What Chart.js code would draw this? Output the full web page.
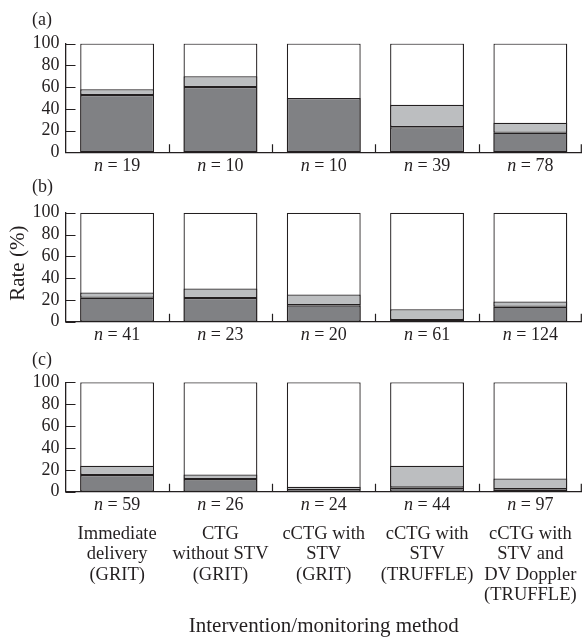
<!DOCTYPE html>
<html><head><meta charset="utf-8">
<script src="https://cdn.jsdelivr.net/npm/chart.js@4.4.1/dist/chart.umd.min.js"></script>
<style>
html,body{margin:0;padding:0;background:#fff;}
#wrap{position:relative;width:582px;height:639px;overflow:hidden;background:#fff;}
.cv{position:absolute;left:0;width:582px;}
</style></head><body>
<div id="wrap">
  <div class="cv" style="top:0;height:178px"><canvas id="ca"></canvas></div>
  <div class="cv" style="top:178px;height:170px"><canvas id="cb"></canvas></div>
  <div class="cv" style="top:348px;height:291px"><canvas id="cc"></canvas></div>
</div>
<script>
// ---------- data ----------
const categories = [
  ["Immediate", "delivery", "(GRIT)"],
  ["CTG", "without STV", "(GRIT)"],
  ["cCTG with", "STV", "(GRIT)"],
  ["cCTG with", "STV", "(TRUFFLE)"],
  ["cCTG with", "STV and", "DV Doppler", "(TRUFFLE)"]
];
const panelLabels = ["(a)", "(b)", "(c)"];
const nA = [19, 10, 10, 39, 78];
const nB = [41, 23, 20, 61, 124];
const nC = [59, 26, 24, 44, 97];
const darkA  = [52.6, 60.0, 50.0, 23.1, 17.9];
const lightA = [5.3, 10.0, 0.0, 20.5, 9.2];
const darkB  = [22.0, 21.7, 15.0, 1.6, 13.7];
const lightB = [4.8, 8.7, 10.0, 9.9, 4.8];
const darkC  = [15.3, 11.5, 1.2, 3.7, 2.2];
const lightC = [8.4, 4.2, 3.4, 20.1, 9.8];
const totals = [100, 100, 100, 100, 100];
const yTicks = [0, 20, 40, 60, 80, 100];
const yTitle = "Rate (%)";
const xTitle = "Intervention/monitoring method";

// ---------- style ----------
const INK = "#231f20";
const DARK = "#808184";
const LIGHT = "#bcbec0";
const FONT = "'Liberation Serif', 'Times New Roman', serif";

const deco = {
  id: "deco",
  afterDraw(chart) {
    const o = chart.options.plugins.deco;
    const {ctx, chartArea: ca, scales: {x, y}} = chart;
    ctx.save();
    ctx.strokeStyle = INK;
    ctx.lineWidth = 1.2;
    ctx.beginPath();
    y.ticks.forEach(t => {
      const py = Math.round(y.getPixelForValue(t.value)) + 0.5;
      ctx.moveTo(ca.left, py); ctx.lineTo(ca.left + 10, py);
    });
    for (let i = 0; i < o.ns.length; i++) {
      let px = x.getPixelForValue(i + 0.5);
      px = Math.min(Math.round(px) + 0.5, ca.right - 0.7);
      ctx.moveTo(px, ca.bottom); ctx.lineTo(px, ca.bottom - 8);
    }
    ctx.stroke();

    ctx.fillStyle = INK;
    ctx.textBaseline = "middle";
    // n labels
    o.ns.forEach((n, i) => {
      const cx = x.getPixelForValue(i);
      const cy = ca.bottom + 14;
      ctx.font = "italic 18px " + FONT;
      const w1 = ctx.measureText("n").width;
      ctx.font = "18px " + FONT;
      const rest = " = " + n;
      const w2 = ctx.measureText(rest).width;
      const sx = cx - (w1 + w2) / 2;
      ctx.textAlign = "left";
      ctx.font = "italic 18px " + FONT;
      ctx.fillText("n", sx, cy);
      ctx.font = "18px " + FONT;
      ctx.fillText(rest, sx + w1, cy);
    });
    // panel label
    ctx.textAlign = "left";
    ctx.font = "18px " + FONT;
    ctx.fillText(o.label, 32, o.labelY);
    // y title
    if (o.yTitle) {
      ctx.save();
      ctx.translate(18, (ca.top + ca.bottom) / 2 - 4);
      ctx.rotate(-Math.PI / 2);
      ctx.textAlign = "center";
      ctx.font = "21px " + FONT;
      ctx.fillText(o.yTitle, 0, 0);
      ctx.restore();
    }
    // category labels & x title
    if (o.cats) {
      ctx.textAlign = "center";
      ctx.font = "18.5px " + FONT;
      o.cats.forEach((lines, i) => {
        const cx = x.getPixelForValue(i);
        lines.forEach((ln, j) => ctx.fillText(ln, cx, ca.bottom + 42 + j * 20.5));
      });
      ctx.font = "21px " + FONT;
      ctx.fillText(o.xTitle, (ca.left + ca.right) / 2, ca.bottom + 135);
    }
    ctx.restore();
  }
};

function makePanel(id, dark, light, ns, label, labelY, topPad, bottomPad, extra) {
  const labels = ns.map(String);
  const common = {grouped: false, borderColor: INK, borderWidth: 1.3, borderSkipped: false,
                  barPercentage: 0.715, categoryPercentage: 1};
  return new Chart(document.getElementById(id), {
    type: "bar",
    data: {
      labels: labels,
      datasets: [
        Object.assign({label: "dark", data: dark, stack: "p", order: 1, backgroundColor: DARK}, common),
        Object.assign({label: "light", data: light, stack: "p", order: 2, backgroundColor: LIGHT}, common),
        Object.assign({label: "total", data: totals, stack: "t", order: 3, backgroundColor: "#ffffff"}, common)
      ]
    },
    options: {
      responsive: true,
      maintainAspectRatio: false,
      animation: false,
      devicePixelRatio: 1,
      layout: {padding: {top: topPad, bottom: bottomPad, left: 0, right: 0}},
      plugins: {
        legend: {display: false},
        tooltip: {enabled: false},
        deco: Object.assign({ns: ns, label: label, labelY: labelY}, extra || {})
      },
      scales: {
        x: {
          type: "category", offset: true, stacked: true,
          grid: {display: false, drawTicks: false},
          border: {display: true, color: INK, width: 1.3},
          ticks: {display: false},
          afterFit: s => { s.height = 0; }
        },
        y: {
          min: 0, max: 100, stacked: true,
          grid: {display: false, drawTicks: false},
          border: {display: true, color: INK, width: 1.3},
          afterBuildTicks: s => { s.ticks = yTicks.map(v => ({value: v})); },
          ticks: {
            color: INK, padding: 6, autoSkip: false,
            font: {family: FONT, size: 18},
            callback: v => String(v)
          },
          afterFit: s => { s.width = 65.5; }
        }
      }
    },
    plugins: [deco]
  });
}

// panel a: canvas 0..178, area 43.5..152.3
makePanel("ca", darkA, lightA, nA, panelLabels[0], 20, 43.5, 178 - 152.3);
// panel b: canvas 178..348, area 212.7..321.7
makePanel("cb", darkB, lightB, nB, panelLabels[1], 9, 34.7, 170 - 143.7, {yTitle: yTitle});
// panel c: canvas 348..639, area 382.3..491.7
makePanel("cc", darkC, lightC, nC, panelLabels[2], 12, 34.3, 291 - 143.7, {cats: categories, xTitle: xTitle});
</script>
</body></html>
